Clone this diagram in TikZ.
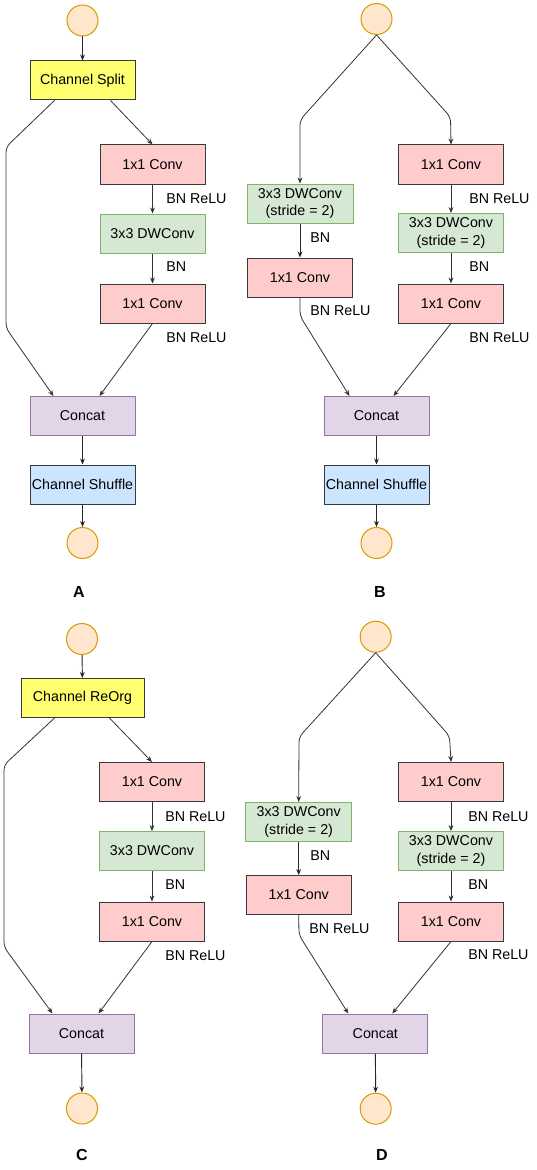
\documentclass[tikz,border=0pt]{standalone}
\usepackage{fontspec}
\setmainfont{Liberation Sans}
\usetikzlibrary{arrows.meta,calc}
\definecolor{pinkf}{HTML}{FFCCCC}
\definecolor{darkd}{HTML}{36393D}
\definecolor{greenf}{HTML}{D5E8D4}
\definecolor{greend}{HTML}{82B366}
\definecolor{purpf}{HTML}{E1D5E7}
\definecolor{purpd}{HTML}{9673A6}
\definecolor{bluef}{HTML}{CCE5FF}
\definecolor{yellf}{HTML}{FFFF70}
\definecolor{circf}{HTML}{FFE6CC}
\definecolor{circd}{HTML}{D79B00}
\definecolor{linec}{HTML}{333333}
\begin{document}
\begin{tikzpicture}[x=0.75pt,y=-0.75pt,
  box/.style={rectangle,inner sep=0pt,minimum width=78.75pt,minimum height=29.25pt,
    line width=0.75pt,align=center,font=\fontsize{10.7}{13}\selectfont},
  conv/.style={box,fill=pinkf,draw=darkd},
  dwbox/.style={box,fill=greenf,draw=greend},
  dwwide/.style={dwbox,minimum width=79.5pt},
  catbox/.style={box,fill=purpf,draw=purpd},
  shufbox/.style={box,fill=bluef,draw=darkd},
  splitbox/.style={box,fill=yellf,draw=darkd},
  io/.style={circle,inner sep=0pt,minimum size=23.25pt,fill=circf,draw=circd,line width=0.75pt},
  lbl/.style={anchor=west,inner sep=0pt,font=\fontsize{10.7}{13}\selectfont},
  panel/.style={inner sep=0pt,font=\fontsize{12}{14}\selectfont\bfseries},
  arr/.style={draw=linec,line width=0.6pt,rounded corners=4pt,-{Stealth[length=4.5pt,width=3.6pt]}},
  arrk/.style={arr,line width=0.72pt,draw=black!85}]
\useasboundingbox (0,0) rectangle (536,1170);

% ---------------- Panel A ----------------
\node[io] (aIn) at (82.5,20.5) {};
\node[splitbox] (aSplit) at (82.5,80.5) {Channel Split};
\node[conv] (a1) at (152.5,164.5) {1x1 Conv};
\node[dwbox] (a2) at (152.5,233.5) {3x3 DWConv};
\node[conv] (a3) at (152.5,303.5) {1x1 Conv};
\node[catbox] (aCat) at (82.5,416) {Concat};
\node[shufbox] (aShuf) at (82.5,484.5) {Channel Shuffle};
\node[io] (aOut) at (82.5,543) {};
\node[panel] (aLab) at (79,592) {A};
\coordinate (aB1) at (6,147);
\coordinate (aB2) at (6,328);
\draw[arrk] (aIn) -- (aSplit);
\draw[arr] ($(aSplit.south west)+(25,0)$) -- (aB1) -- (aB2) -- ($(aCat.north west)+(24,0)$);
\draw[arr] ($(aSplit.south east)+(-25,0)$) -- (a1.north);
\draw[arr] (a1) -- (a2);
\node[lbl] (aL1) at (166,199) {BN ReLU};
\draw[arr] (a2) -- (a3);
\node[lbl] (aL2) at (166,267) {BN};
\draw[arr] (a3.south) -- ($(aCat.north east)+(-36,0)$);
\node[lbl] (aL3) at (166,338) {BN ReLU};
\draw[arrk] (aCat) -- (aShuf);
\draw[arrk] (aShuf) -- (aOut);

% ---------------- Panel B ----------------
\node[io] (bIn) at (376.5,19) {};
\node[dwwide] (bl1) at (300,203.5) {3x3 DWConv\\(stride = 2)};
\node[conv] (bl2) at (300,277.5) {1x1 Conv};
\node[conv] (br1) at (451,164.5) {1x1 Conv};
\node[dwbox] (br2) at (451,233) {3x3 DWConv\\(stride = 2)};
\node[conv] (br3) at (451,303.5) {1x1 Conv};
\node[catbox] (bCat) at (376.5,416) {Concat};
\node[shufbox] (bShuf) at (376.5,484.5) {Channel Shuffle};
\node[io] (bOut) at (376.5,543) {};
\node[panel] (bLab) at (380,592) {B};
\coordinate (bLB) at (300,120);
\coordinate (bRB) at (450.5,117);
\coordinate (bLD) at (300,316);
\draw[arr] (bIn.south) -- (bLB) -- (bl1.north);
\draw[arr] (bIn.south) -- (bRB) -- (br1.north);
\draw[arrk] (bl1) -- (bl2);
\node[lbl] (bLa) at (310,238) {BN};
\draw[arr] (bl2.south) -- (bLD) -- ($(bCat.north west)+(26,0)$);
\node[lbl] (bLb) at (310,311) {BN ReLU};
\draw[arr] (br1) -- (br2);
\node[lbl] (bLc) at (469,199) {BN ReLU};
\draw[arr] (br2) -- (br3);
\node[lbl] (bLd) at (469,267) {BN};
\draw[arr] (br3.south) -- ($(bCat.north east)+(-36,0)$);
\node[lbl] (bLe) at (469,337.5) {BN ReLU};
\draw[arrk] (bCat) -- (bShuf);
\draw[arrk] (bShuf) -- (bOut);

% ---------------- Panel C ----------------
\node[io] (cIn) at (82,639) {};
\node[splitbox,minimum width=92.25pt] (cSplit) at (82.5,698) {Channel ReOrg};
\node[conv] (c1) at (152,782) {1x1 Conv};
\node[dwbox] (c2) at (152,851) {3x3 DWConv};
\node[conv] (c3) at (152,921.5) {1x1 Conv};
\node[catbox] (cCat) at (81.5,1033.5) {Concat};
\node[io] (cOut) at (82,1108.5) {};
\node[panel] (cLab) at (82,1155) {C};
\coordinate (cB1) at (4,765);
\coordinate (cB2) at (4,947);
\draw[arrk] (cIn) -- (cSplit);
\draw[arr] ($(cSplit.south west)+(34,0)$) -- (cB1) -- (cB2) -- ($(cCat.north west)+(24,0)$);
\draw[arr] ($(cSplit.south east)+(-35,0)$) -- (c1.north);
\draw[arr] (c1) -- (c2);
\node[lbl] (cL1) at (165,817) {BN ReLU};
\draw[arr] (c2) -- (c3);
\node[lbl] (cL2) at (165,885) {BN};
\draw[arr] (c3.south) -- ($(cCat.north east)+(-36,0)$);
\node[lbl] (cL3) at (165,956) {BN ReLU};
\draw[arrk] (cCat) -- (cOut);

% ---------------- Panel D ----------------
\node[io] (dIn) at (375.7,636.7) {};
\node[dwwide] (dl1) at (298.7,822) {3x3 DWConv\\(stride = 2)};
\node[conv] (dl2) at (298.7,895) {1x1 Conv};
\node[conv] (dr1) at (451,782) {1x1 Conv};
\node[dwbox] (dr2) at (451,851) {3x3 DWConv\\(stride = 2)};
\node[conv] (dr3) at (451,921.5) {1x1 Conv};
\node[catbox] (dCat) at (375.3,1033.5) {Concat};
\node[io] (dOut) at (375.7,1108.7) {};
\node[panel] (dLab) at (382,1155) {D};
\coordinate (dLB) at (299,737);
\coordinate (dRB) at (449.5,736);
\coordinate (dLD) at (299,935);
\draw[arr] (dIn.south) -- (dLB) -- (dl1.north);
\draw[arr] (dIn.south) -- (dRB) -- (dr1.north);
\draw[arrk] (dl1) -- (dl2);
\node[lbl] (dLa) at (310,856) {BN};
\draw[arr] (dl2.south) -- (dLD) -- ($(dCat.north west)+(26,0)$);
\node[lbl] (dLb) at (309,929) {BN ReLU};
\draw[arr] (dr1) -- (dr2);
\node[lbl] (dLc) at (468,816.7) {BN ReLU};
\draw[arr] (dr2) -- (dr3);
\node[lbl] (dLd) at (468,885) {BN};
\draw[arr] (dr3.south) -- ($(dCat.north east)+(-36,0)$);
\node[lbl] (dLe) at (468,955) {BN ReLU};
\draw[arrk] (dCat) -- (dOut);
\end{tikzpicture}
\end{document}
